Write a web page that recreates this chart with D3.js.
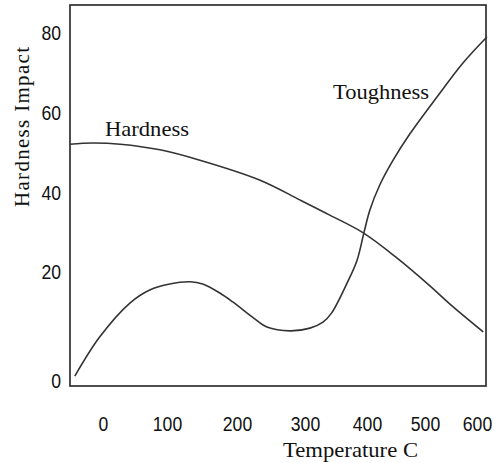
<!DOCTYPE html>
<html>
<head>
<meta charset="utf-8">
<script src="https://cdn.jsdelivr.net/npm/d3@7"></script>
<style>
html,body{margin:0;padding:0;background:#fff;}
svg{display:block;}
.tick text{font-family:"Liberation Sans","DejaVu Sans",sans-serif;font-size:21px;fill:#111;}
.serif{font-family:"Liberation Serif","Times New Roman",serif;fill:#111;}
</style>
</head>
<body>
<script>
// Tick labels
const xTicks = [0, 100, 200, 300, 400, 500, 600];
const yTicks = [0, 20, 40, 60, 80];

// Series: temperature (C) and values
const hardnessT = [-52, -16, 27, 89, 147, 234, 293, 340, 394, 452, 510, 548, 612];
const hardnessV = [52.2, 52.5, 52.2, 50.8, 48.2, 43.2, 38.2, 34.4, 29.9, 23.5, 17.4, 14.1, 9.0];

const toughnessT = [-44, -5, 42, 73, 104, 133, 151, 176, 194, 224, 244, 278, 308, 329, 343, 368, 384, 395, 405, 422, 445, 474, 523, 573, 619];
const toughnessV = [0.9, 8.1, 14.3, 16.7, 17.8, 18.2, 17.8, 16.1, 14.5, 11.6, 9.9, 9.2, 9.7, 10.8, 12.5, 18.0, 23.0, 29.9, 35.7, 42.0, 48.2, 54.8, 64, 72.5, 79];

const W = 494, H = 463;
const frame = {left: 70, top: 5, right: 486, bottom: 386};

const svg = d3.select("body").append("svg").attr("width", W).attr("height", H);

// Hand-drawn original: tick labels are unevenly spaced, so piecewise-linear scales
const x = d3.scaleLinear().domain(xTicks).range([103, 167, 237, 305, 367, 425, 477]);
const y = d3.scaleLinear().domain(yTicks).range([381, 272, 193, 113, 33]);

// Frame
svg.append("rect")
  .attr("x", frame.left).attr("y", frame.top)
  .attr("width", frame.right - frame.left).attr("height", frame.bottom - frame.top)
  .attr("fill", "none").attr("stroke", "#222").attr("stroke-width", 1.6);

// Axes (labels only)
const gx = svg.append("g").attr("transform", "translate(0,416)")
  .call(d3.axisBottom(x).tickValues(xTicks).tickSize(0).tickPadding(0).tickFormat(d3.format("d")));
gx.select(".domain").remove();
gx.selectAll(".tick text").attr("dy", "0.71em").attr("transform", "scale(0.84,1)");

const gy = svg.append("g").attr("transform", "translate(61,0)")
  .call(d3.axisLeft(y).tickValues(yTicks).tickSize(0).tickPadding(0).tickFormat(d3.format("d")));
gy.select(".domain").remove();
gy.selectAll(".tick text").attr("transform", "scale(0.84,1)");

// Lines
const line = d3.line().x(d => x(d[0])).y(d => y(d[1])).curve(d3.curveCatmullRom.alpha(0.5));
const hard = hardnessT.map((t, i) => [t, hardnessV[i]]);
const tough = toughnessT.map((t, i) => [t, toughnessV[i]]);

svg.append("path").datum(hard).attr("d", line)
  .attr("fill", "none").attr("stroke", "#333").attr("stroke-width", 1.6);
svg.append("path").datum(tough).attr("d", line)
  .attr("fill", "none").attr("stroke", "#333").attr("stroke-width", 1.6);

// Series labels
svg.append("text").attr("class", "serif").attr("x", 105).attr("y", 136)
  .attr("font-size", 22).attr("textLength", 84).attr("lengthAdjust", "spacingAndGlyphs").text("Hardness");
svg.append("text").attr("class", "serif").attr("x", 333).attr("y", 99)
  .attr("font-size", 22).attr("textLength", 96).attr("lengthAdjust", "spacingAndGlyphs").text("Toughness");

// Axis titles
svg.append("text").attr("class", "serif").attr("x", 283).attr("y", 457)
  .attr("font-size", 22).attr("textLength", 135).attr("lengthAdjust", "spacingAndGlyphs").text("Temperature C");
svg.append("text").attr("class", "serif")
  .attr("transform", "translate(29,207) rotate(-90)")
  .attr("font-size", 21).attr("textLength", 160).attr("lengthAdjust", "spacing").text("Hardness  Impact");
</script>
</body>
</html>
